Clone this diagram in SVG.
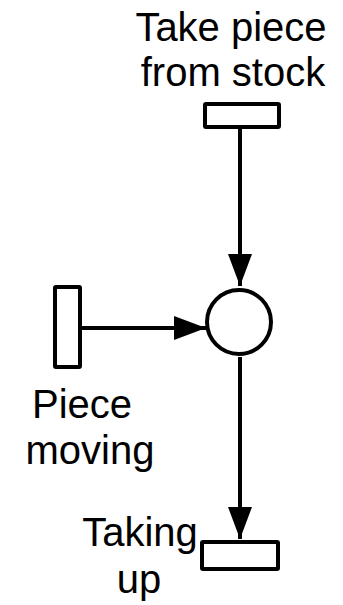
<svg xmlns="http://www.w3.org/2000/svg" width="343" height="605" viewBox="0 0 343 605">
  <style>
    .shape { fill: #ffffff; stroke: #000000; stroke-width: 4; }
    .edge { stroke: #000000; stroke-width: 4; fill: none; }
    .label { font-family: "Liberation Sans", Arial, sans-serif; font-size: 40px; fill: #000000; text-anchor: middle; }
  </style>
  <defs>
    <marker id="arrow" markerUnits="userSpaceOnUse" markerWidth="32" markerHeight="24" refX="32" refY="12" orient="auto">
      <path d="M0,0 L32,12 L0,24 Z" fill="#000000"/>
    </marker>
  </defs>

  <g id="connectors">
    <line class="edge" x1="240" y1="128" x2="240" y2="286" marker-end="url(#arrow)"/>
    <line class="edge" x1="82" y1="328" x2="206" y2="328" marker-end="url(#arrow)"/>
    <line class="edge" x1="240" y1="357" x2="240" y2="539" marker-end="url(#arrow)"/>
  </g>

  <g id="take-piece">
    <rect class="shape" x="205" y="104" width="74" height="23" rx="1"/>
    <text class="label" x="231" y="41">Take piece</text>
    <text class="label" x="233" y="86">from stock</text>
  </g>

  <g id="place">
    <circle class="shape" cx="239" cy="322" r="32"/>
  </g>

  <g id="piece-moving">
    <rect class="shape" x="55" y="287" width="25" height="80" rx="1"/>
    <text class="label" x="82" y="418">Piece</text>
    <text class="label" x="90" y="464">moving</text>
  </g>

  <g id="taking-up">
    <rect class="shape" x="202" y="542" width="76" height="27" rx="1"/>
    <text class="label" x="140" y="546">Taking</text>
    <text class="label" x="139" y="593">up</text>
  </g>
</svg>
